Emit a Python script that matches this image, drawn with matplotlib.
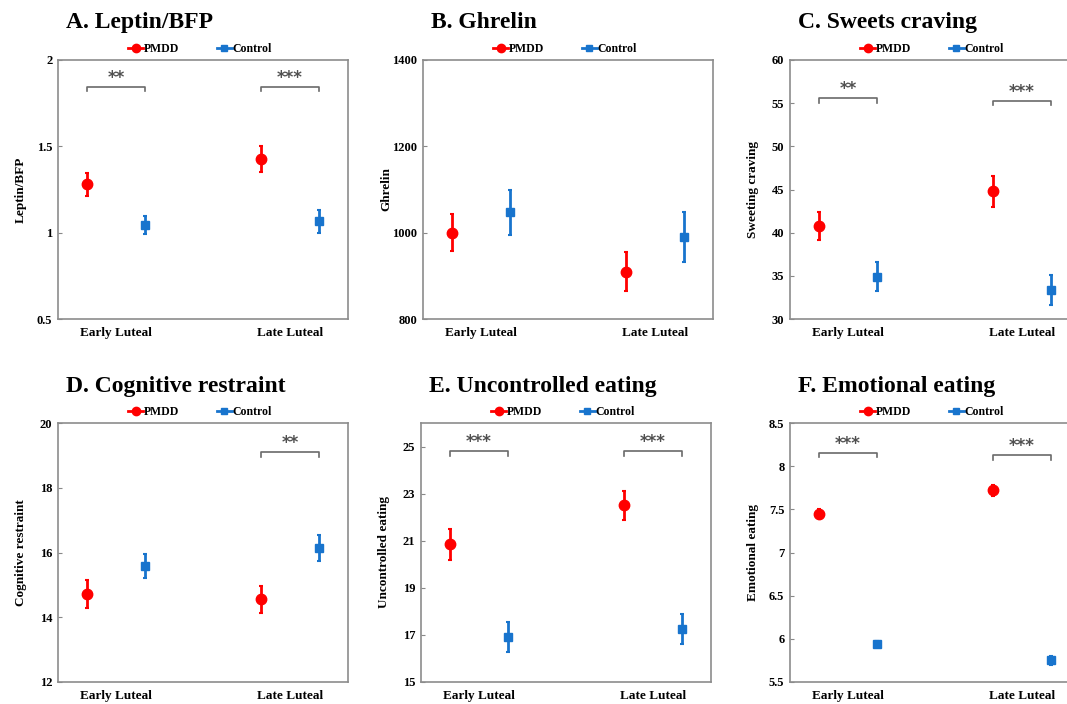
import numpy as np
import matplotlib
matplotlib.use("Agg")
import matplotlib.pyplot as plt
from matplotlib.lines import Line2D

plt.rcParams['font.family'] = ['Liberation Serif', 'DejaVu Serif']
plt.rcParams['font.weight'] = 'bold'

phases = ['Early Luteal', 'Late Luteal']
groups = ['PMDD', 'Control']

titles = ['A. Leptin/BFP', 'B. Ghrelin', 'C. Sweets craving',
          'D. Cognitive restraint', 'E. Uncontrolled eating', 'F. Emotional eating']
ylabels = ['Leptin/BFP', 'Ghrelin', 'Sweeting craving',
           'Cognitive restraint', 'Uncontrolled eating', 'Emotional eating']

# means / error (half length), [early, late]
pmdd_mean = [[1.28, 1.425], [1000, 910], [40.8, 44.8],
             [14.72, 14.55], [20.85, 22.5], [7.45, 7.72]]
pmdd_err = [[0.065, 0.075], [43, 45], [1.6, 1.8],
            [0.42, 0.42], [0.65, 0.6], [0.05, 0.06]]
ctrl_mean = [[1.045, 1.065], [1047, 990], [34.9, 33.4],
             [15.58, 16.15], [16.92, 17.25], [5.94, 5.75]]
ctrl_err = [[0.05, 0.065], [52, 57], [1.7, 1.75],
            [0.38, 0.4], [0.63, 0.65], [0.04, 0.05]]

ylims = [(0.5, 2), (800, 1400), (30, 60), (12, 20), (15, 26), (5.5, 8.5)]
yticks = [np.arange(0.5, 2.01, 0.5), np.arange(800, 1401, 200), np.arange(30, 61, 5),
          np.arange(12, 21, 2), np.arange(15, 26, 2), np.arange(5.5, 8.51, 0.5)]

# significance brackets: (phase index, stars, bracket height)
signif = [[(0, '**', 1.845), (1, '***', 1.845)],
          [],
          [(0, '**', 55.55), (1, '***', 55.3)],
          [(1, '**', 19.1)],
          [(0, '***', 24.8), (1, '***', 24.8)],
          [(0, '***', 8.155), (1, '***', 8.13)]]

red = '#FF0000'
blue = '#1874CD'
W, H = 1067, 704
lefts = [[58, 423, 790], [58, 421, 790]]
tops = [60, 423]
title_base = [28, 392]
ax_w, ax_h = 290, 259

fig = plt.figure(figsize=(W / 100, H / 100), dpi=100)

handles = [Line2D([], [], color=red, marker='o', ms=6, lw=2),
           Line2D([], [], color=blue, marker='s', ms=5, lw=2)]

for i in range(6):
    r, c = divmod(i, 3)
    left = lefts[r][c]
    ax = fig.add_axes([left / W, 1 - (tops[r] + ax_h) / H, ax_w / W, ax_h / H])
    x_p = np.array([1, 4])
    x_c = np.array([2, 5])
    ax.errorbar(x_p, pmdd_mean[i], yerr=pmdd_err[i], fmt='o', color=red,
                ms=7.5, elinewidth=2, capsize=1.5, capthick=1.5)
    ax.errorbar(x_c, ctrl_mean[i], yerr=ctrl_err[i], fmt='s', color=blue,
                ms=6, elinewidth=2, capsize=1.5, capthick=1.5)
    ax.set_xlim(0.5, 5.5)
    ax.set_ylim(*ylims[i])
    ax.set_yticks(yticks[i])
    ax.set_yticklabels(['{:g}'.format(v) for v in yticks[i]], fontsize=9, fontweight='bold')
    ax.set_xticks([1.5, 4.5])
    ax.set_xticklabels(phases, fontsize=9.5, fontweight='bold')
    ax.tick_params(axis='x', length=0, pad=6)
    ax.tick_params(axis='y', direction='in', length=3, pad=4, color='#888888')
    for s in ax.spines.values():
        s.set_color('#8c8c8c')
        s.set_linewidth(1.2)
    ax.set_ylabel(ylabels[i], fontsize=9.5, fontweight='bold', va='center')
    ax.yaxis.set_label_coords(-37 / ax_w, 0.5)

    span = ylims[i][1] - ylims[i][0]
    for k, stars, yb in signif[i]:
        x0, x1 = x_p[k], x_c[k]
        d = 0.018 * span
        ax.plot([x0, x0, x1, x1], [yb - d, yb, yb, yb - d], color='#6a6a6a', lw=1.2)
        ax.text((x0 + x1) / 2, yb + 0.035 * span, stars, ha='center', va='center',
                fontsize=12, fontweight='bold', color='#505050', family='DejaVu Sans')

    ax.legend(handles, groups, loc='lower center', bbox_to_anchor=(0.49, 0.995), ncol=2,
              frameon=False, fontsize=8.5, handlelength=1.25, columnspacing=3.2,
              handletextpad=0.05, borderaxespad=0.1)
    fig.text((left + 8) / W, 1 - title_base[r] / H, titles[i], ha='left', va='baseline',
             fontsize=17, fontweight='bold')

fig.savefig('out.png', dpi=100)
